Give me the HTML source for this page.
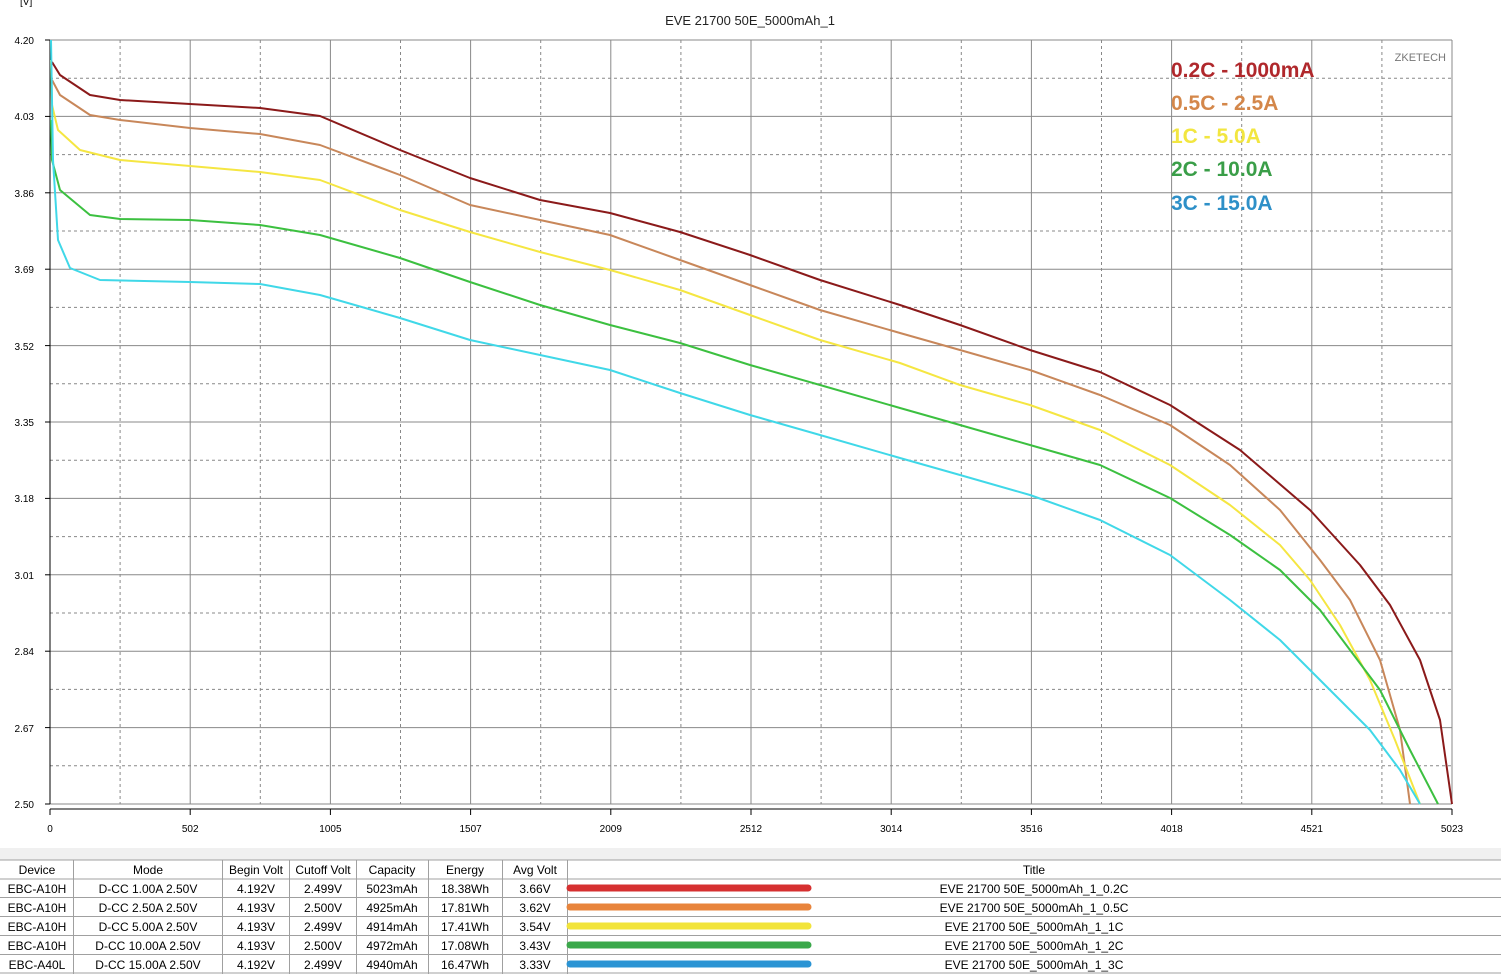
<!DOCTYPE html>
<html><head><meta charset="utf-8"><style>
body{margin:0;background:#fff;width:1501px;height:974px;overflow:hidden;font-family:"Liberation Sans",sans-serif}
svg{position:absolute;left:0;top:0}
</style></head><body>
<svg width="1501" height="974" viewBox="0 0 1501 974" xmlns="http://www.w3.org/2000/svg" font-family="Liberation Sans, sans-serif">
<rect width="1501" height="974" fill="#fff"/>
<text x="20" y="5" font-size="10" fill="#000">[V]</text>
<text x="750" y="25" font-size="13" text-anchor="middle" fill="#222">EVE 21700 50E_5000mAh_1</text>
<g stroke="#888" stroke-width="1">
<g stroke-dasharray="3,3">
<line x1="120.1" y1="40" x2="120.1" y2="804"/><line x1="260.3" y1="40" x2="260.3" y2="804"/><line x1="400.5" y1="40" x2="400.5" y2="804"/><line x1="540.7" y1="40" x2="540.7" y2="804"/><line x1="680.9" y1="40" x2="680.9" y2="804"/><line x1="821.1" y1="40" x2="821.1" y2="804"/><line x1="961.3" y1="40" x2="961.3" y2="804"/><line x1="1101.5" y1="40" x2="1101.5" y2="804"/><line x1="1241.7" y1="40" x2="1241.7" y2="804"/><line x1="1381.9" y1="40" x2="1381.9" y2="804"/>
<line x1="50" y1="78.2" x2="1452" y2="78.2"/><line x1="50" y1="154.6" x2="1452" y2="154.6"/><line x1="50" y1="231" x2="1452" y2="231"/><line x1="50" y1="307.4" x2="1452" y2="307.4"/><line x1="50" y1="383.8" x2="1452" y2="383.8"/><line x1="50" y1="460.2" x2="1452" y2="460.2"/><line x1="50" y1="536.6" x2="1452" y2="536.6"/><line x1="50" y1="613" x2="1452" y2="613"/><line x1="50" y1="689.4" x2="1452" y2="689.4"/><line x1="50" y1="765.8" x2="1452" y2="765.8"/>
</g>
<line x1="190.2" y1="40" x2="190.2" y2="804"/><line x1="330.4" y1="40" x2="330.4" y2="804"/><line x1="470.6" y1="40" x2="470.6" y2="804"/><line x1="610.8" y1="40" x2="610.8" y2="804"/><line x1="751" y1="40" x2="751" y2="804"/><line x1="891.2" y1="40" x2="891.2" y2="804"/><line x1="1031.4" y1="40" x2="1031.4" y2="804"/><line x1="1171.6" y1="40" x2="1171.6" y2="804"/><line x1="1311.8" y1="40" x2="1311.8" y2="804"/><line x1="1452" y1="40" x2="1452" y2="804"/>
<line x1="50" y1="40" x2="1452" y2="40"/><line x1="50" y1="116.4" x2="1452" y2="116.4"/><line x1="50" y1="192.8" x2="1452" y2="192.8"/><line x1="50" y1="269.2" x2="1452" y2="269.2"/><line x1="50" y1="345.6" x2="1452" y2="345.6"/><line x1="50" y1="422" x2="1452" y2="422"/><line x1="50" y1="498.4" x2="1452" y2="498.4"/><line x1="50" y1="574.8" x2="1452" y2="574.8"/><line x1="50" y1="651.2" x2="1452" y2="651.2"/><line x1="50" y1="727.6" x2="1452" y2="727.6"/><line x1="50" y1="804" x2="1452" y2="804"/>
</g>
<g stroke="#000" stroke-width="1">
<line x1="50" y1="40" x2="50" y2="804"/>
<line x1="45" y1="40" x2="50" y2="40"/><line x1="45" y1="116.4" x2="50" y2="116.4"/><line x1="45" y1="192.8" x2="50" y2="192.8"/><line x1="45" y1="269.2" x2="50" y2="269.2"/><line x1="45" y1="345.6" x2="50" y2="345.6"/><line x1="45" y1="422" x2="50" y2="422"/><line x1="45" y1="498.4" x2="50" y2="498.4"/><line x1="45" y1="574.8" x2="50" y2="574.8"/><line x1="45" y1="651.2" x2="50" y2="651.2"/><line x1="45" y1="727.6" x2="50" y2="727.6"/><line x1="45" y1="804" x2="50" y2="804"/>
<line x1="50" y1="809" x2="1452" y2="809"/>
<line x1="50" y1="809" x2="50" y2="815"/><line x1="190.2" y1="809" x2="190.2" y2="815"/><line x1="330.4" y1="809" x2="330.4" y2="815"/><line x1="470.6" y1="809" x2="470.6" y2="815"/><line x1="610.8" y1="809" x2="610.8" y2="815"/><line x1="751" y1="809" x2="751" y2="815"/><line x1="891.2" y1="809" x2="891.2" y2="815"/><line x1="1031.4" y1="809" x2="1031.4" y2="815"/><line x1="1171.6" y1="809" x2="1171.6" y2="815"/><line x1="1311.8" y1="809" x2="1311.8" y2="815"/><line x1="1452" y1="809" x2="1452" y2="815"/>
</g>
<g font-size="10" fill="#000" text-anchor="end">
<text x="34" y="44">4.20</text><text x="34" y="120">4.03</text><text x="34" y="197">3.86</text><text x="34" y="273">3.69</text><text x="34" y="350">3.52</text><text x="34" y="426">3.35</text><text x="34" y="502">3.18</text><text x="34" y="579">3.01</text><text x="34" y="655">2.84</text><text x="34" y="732">2.67</text><text x="34" y="808">2.50</text>
</g>
<g font-size="10" fill="#000" text-anchor="middle">
<text x="50" y="832">0</text><text x="190.2" y="832">502</text><text x="330.4" y="832">1005</text><text x="470.6" y="832">1507</text><text x="610.8" y="832">2009</text><text x="751" y="832">2512</text><text x="891.2" y="832">3014</text><text x="1031.4" y="832">3516</text><text x="1171.6" y="832">4018</text><text x="1311.8" y="832">4521</text><text x="1452" y="832">5023</text>
</g>
<text x="1446" y="61" font-size="11" fill="#777" text-anchor="end">ZKETECH</text>
<g fill="none" stroke-width="2" stroke-linejoin="round">
<polyline stroke="#8b1a1a" points="52,62 60,75 90,95 120,100 190,104 260,108 320,116 400,150 470,178 540,200 610,213 680,232 750,255 820,280 900,305 960,325 1030,350 1100,372 1170,405 1240,450 1310,510 1360,565 1390,605 1420,660 1440,720 1452,804"/>
<polyline stroke="#c8875a" points="52,80 60,95 90,115 120,120 190,128 260,134 320,145 400,175 470,205 540,220 610,235 680,260 750,285 820,310 900,333 960,350 1030,370 1100,395 1170,425 1230,465 1280,510 1320,560 1350,600 1380,660 1400,730 1410,804"/>
<polyline stroke="#f5e642" points="51,60 52,105 58,130 80,150 120,160 190,166 260,172 320,180 400,210 470,232 540,252 610,270 680,290 750,315 820,340 900,363 960,385 1030,405 1100,430 1170,465 1230,505 1280,545 1310,580 1340,625 1370,680 1395,740 1420,804"/>
<polyline stroke="#3cc040" points="51,120 52,160 60,190 90,215 120,219 190,220 260,225 320,235 400,258 470,282 540,305 610,325 680,343 750,365 820,385 900,408 960,425 1030,445 1100,465 1170,498 1230,535 1280,570 1320,610 1350,650 1380,690 1410,750 1438,804"/>
<polyline stroke="#40d8e8" points="51,40 53,160 58,240 70,268 100,280 190,282 260,284 320,295 400,318 470,340 540,355 610,370 680,393 750,415 820,435 900,458 960,475 1030,495 1100,520 1170,555 1230,600 1280,640 1330,690 1370,730 1400,770 1420,804"/>
</g>
<g font-size="21" font-weight="bold">
<text x="1171" y="77" fill="#b0282c">0.2C - 1000mA</text>
<text x="1171" y="110" fill="#d4874a">0.5C - 2.5A</text>
<text x="1171" y="143" fill="#f2e640">1C - 5.0A</text>
<text x="1171" y="176" fill="#3a9e48">2C - 10.0A</text>
<text x="1171" y="210" fill="#2e90c8">3C - 15.0A</text>
</g>
<rect x="0" y="848" width="1501" height="126" fill="#f0f0f0"/>
<rect x="0" y="860" width="1501" height="114" fill="#fff"/>
<g stroke="#a0a0a0" stroke-width="1">
<line x1="0" y1="860" x2="1501" y2="860"/><line x1="0" y1="879" x2="1501" y2="879"/><line x1="0" y1="897.5" x2="1501" y2="897.5"/><line x1="0" y1="916.5" x2="1501" y2="916.5"/><line x1="0" y1="935.5" x2="1501" y2="935.5"/><line x1="0" y1="954.5" x2="1501" y2="954.5"/><line x1="0" y1="973" x2="1501" y2="973"/>
<line x1="73.5" y1="860" x2="73.5" y2="974"/><line x1="222.5" y1="860" x2="222.5" y2="974"/><line x1="289.5" y1="860" x2="289.5" y2="974"/><line x1="356.5" y1="860" x2="356.5" y2="974"/><line x1="428.5" y1="860" x2="428.5" y2="974"/><line x1="502.5" y1="860" x2="502.5" y2="974"/><line x1="567.5" y1="860" x2="567.5" y2="974"/>
</g>
<g font-size="12" fill="#000" text-anchor="middle">
<text x="37" y="874">Device</text><text x="148" y="874">Mode</text><text x="256" y="874">Begin Volt</text><text x="323" y="874">Cutoff Volt</text><text x="392" y="874">Capacity</text><text x="465" y="874">Energy</text><text x="535" y="874">Avg Volt</text><text x="1034" y="874">Title</text>
<text x="37" y="893">EBC-A10H</text><text x="148" y="893">D-CC 1.00A 2.50V</text><text x="256" y="893">4.192V</text><text x="323" y="893">2.499V</text><text x="392" y="893">5023mAh</text><text x="465" y="893">18.38Wh</text><text x="535" y="893">3.66V</text><text x="1034" y="893">EVE 21700 50E_5000mAh_1_0.2C</text>
<text x="37" y="912">EBC-A10H</text><text x="148" y="912">D-CC 2.50A 2.50V</text><text x="256" y="912">4.193V</text><text x="323" y="912">2.500V</text><text x="392" y="912">4925mAh</text><text x="465" y="912">17.81Wh</text><text x="535" y="912">3.62V</text><text x="1034" y="912">EVE 21700 50E_5000mAh_1_0.5C</text>
<text x="37" y="931">EBC-A10H</text><text x="148" y="931">D-CC 5.00A 2.50V</text><text x="256" y="931">4.193V</text><text x="323" y="931">2.499V</text><text x="392" y="931">4914mAh</text><text x="465" y="931">17.41Wh</text><text x="535" y="931">3.54V</text><text x="1034" y="931">EVE 21700 50E_5000mAh_1_1C</text>
<text x="37" y="950">EBC-A10H</text><text x="148" y="950">D-CC 10.00A 2.50V</text><text x="256" y="950">4.193V</text><text x="323" y="950">2.500V</text><text x="392" y="950">4972mAh</text><text x="465" y="950">17.08Wh</text><text x="535" y="950">3.43V</text><text x="1034" y="950">EVE 21700 50E_5000mAh_1_2C</text>
<text x="37" y="969">EBC-A40L</text><text x="148" y="969">D-CC 15.00A 2.50V</text><text x="256" y="969">4.192V</text><text x="323" y="969">2.499V</text><text x="392" y="969">4940mAh</text><text x="465" y="969">16.47Wh</text><text x="535" y="969">3.33V</text><text x="1034" y="969">EVE 21700 50E_5000mAh_1_3C</text>
</g>
<g stroke-width="7" stroke-linecap="round">
<line x1="570" y1="888" x2="808" y2="888" stroke="#d63030"/>
<line x1="570" y1="907" x2="808" y2="907" stroke="#e8843c"/>
<line x1="570" y1="926" x2="808" y2="926" stroke="#f2e43a"/>
<line x1="570" y1="945" x2="808" y2="945" stroke="#3aa84a"/>
<line x1="570" y1="964" x2="808" y2="964" stroke="#2a94d4"/>
</g>
</svg>
</body></html>
